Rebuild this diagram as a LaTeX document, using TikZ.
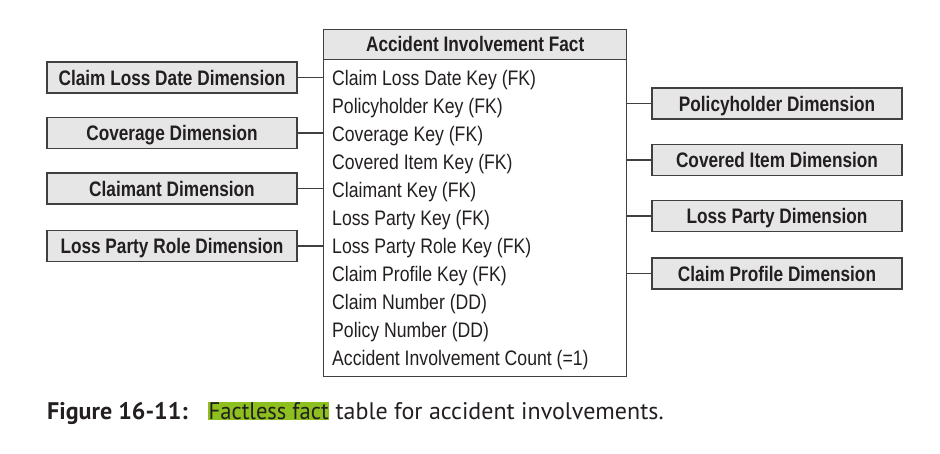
\documentclass[tikz,border=0pt]{standalone}
\usepackage{fontspec}
\newfontfamily\condfont[FakeStretch=0.82]{Liberation Sans}
\newfontfamily\rowfont[FakeStretch=0.84]{Liberation Sans}
\newfontfamily\capfont{PT Sans}
\definecolor{boxline}{HTML}{404040}
\definecolor{boxfill}{HTML}{E6E6E6}
\definecolor{txt}{HTML}{231F20}
\definecolor{hl}{HTML}{8DBF1E}
\begin{document}
\begin{tikzpicture}[x=1pt,y=-1pt,
  dimbox/.style={draw=boxline, line width=1.4pt, fill=boxfill, minimum width=250pt, minimum height=31pt, inner sep=0pt, text height=15pt, text depth=0pt, font=\condfont\bfseries\fontsize{21}{24}\selectfont, text=txt},
  rowtxt/.style={anchor=base west, inner sep=0pt, font=\rowfont\fontsize{21}{24}\selectfont, text=txt},
  conn/.style={draw=boxline, line width=1.4pt}]
\useasboundingbox (0,0) rectangle (940,453);
% fact table
\node[draw=boxline, line width=1.4pt, fill=white, minimum width=303pt, minimum height=347.5pt, inner sep=0pt, anchor=north west] (fact) at (323,28.5) {};
\node[draw=boxline, line width=1.4pt, fill=boxfill, minimum width=303pt, minimum height=30.5pt, inner sep=0pt, text height=15pt, text depth=0pt, anchor=north west, font=\condfont\bfseries\fontsize{21}{24}\selectfont, text=txt] (facthead) at (323,28.5) {Accident Involvement Fact};
\node[rowtxt] (r1) at (332,85) {Claim Loss Date Key (FK)};
\node[rowtxt] (r2) at (332,113) {Policyholder Key (FK)};
\node[rowtxt] (r3) at (332,141) {Coverage Key (FK)};
\node[rowtxt] (r4) at (332,169) {Covered Item Key (FK)};
\node[rowtxt] (r5) at (332,197) {Claimant Key (FK)};
\node[rowtxt] (r6) at (332,225) {Loss Party Key (FK)};
\node[rowtxt] (r7) at (332,253) {Loss Party Role Key (FK)};
\node[rowtxt] (r8) at (332,281) {Claim Profile Key (FK)};
\node[rowtxt] (r9) at (332,309) {Claim Number (DD)};
\node[rowtxt] (r10) at (332,337) {Policy Number (DD)};
\node[rowtxt] (r11) at (332,365) {Accident Involvement Count (=1)};
% left dimensions
\node[dimbox] (dcld) at (172,77.5) {Claim Loss Date Dimension};
\node[dimbox] (dcov) at (172,133) {Coverage Dimension};
\node[dimbox] (dclm) at (172,188.5) {Claimant Dimension};
\node[dimbox] (dlpr) at (172,246) {Loss Party Role Dimension};
% right dimensions
\node[dimbox] (dpol) at (777,103.5) {Policyholder Dimension};
\node[dimbox] (dcit) at (777,160) {Covered Item Dimension};
\node[dimbox] (dlp) at (777,216) {Loss Party Dimension};
\node[dimbox] (dcp) at (777,273.5) {Claim Profile Dimension};
% connectors
\foreach \d in {dcld,dcov,dclm,dlpr} \draw[conn] (\d.east) -- (\d.east -| fact.west);
\foreach \d in {dpol,dcit,dlp,dcp} \draw[conn] (\d.west) -- (\d.west -| fact.east);
% caption
\setlength{\fboxsep}{0.5pt}
\node[anchor=base west, inner sep=0pt, font=\capfont\fontsize{24}{28}\selectfont, text=txt] (cap) at (47,419) {\textbf{Figure 16-11:}\hspace{0.85em}\colorbox{hl}{\scalebox{0.94}[1]{Factless fact}} table for accident involvements.};
\end{tikzpicture}
\end{document}
